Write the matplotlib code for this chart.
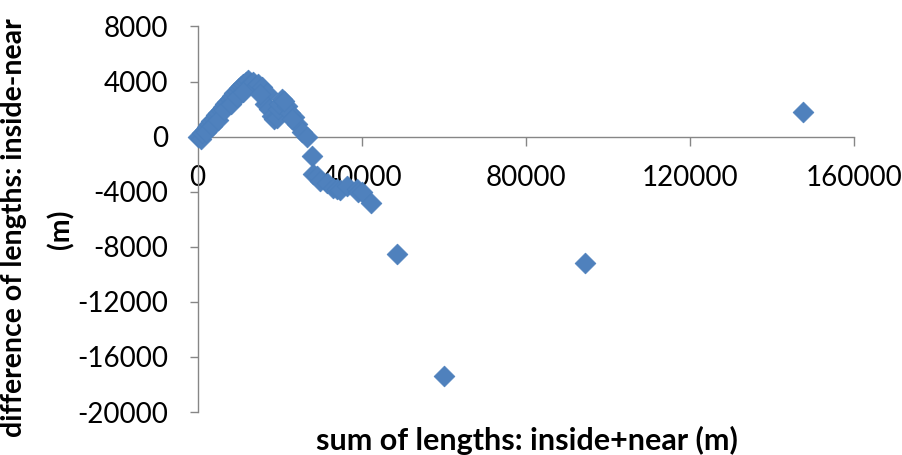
import matplotlib
matplotlib.use("Agg")
import matplotlib.pyplot as plt

# sum of lengths (inside + near), metres
sum_lengths = [
    0, 800, 1200, 1700, 2300, 2900, 3400, 3900, 4500, 5100, 5600, 6200,
    6800, 7300, 7900, 8400, 9000, 9500, 10100, 10600, 11200, 11700, 12300,
    13000, 13600, 14300, 14800, 15600, 16900, 16500, 17300, 18100, 18700,
    19300, 19500, 19900, 20500, 21700, 22500, 23400, 24200, 25400, 26600,
    27800, 28200, 29100, 29900, 31500, 33100, 33900, 34700, 36400, 38800,
    39200, 40000, 42200, 48600, 60100, 94500, 147500,
    2000, 3600, 4900, 6500, 8100, 9700, 11000, 15200, 21000, 23000,
]

# difference of lengths (inside - near), metres
diff_lengths = [
    0, -200, 250, 450, 700, 950, 1150, 1300, 1550, 1750, 1950, 2150,
    2400, 2550, 2750, 2950, 3150, 3300, 3500, 3650, 3800, 3950, 4100,
    3900, 4000, 3700, 3800, 3600, 3200, 2400, 2000, 1500, 1300,
    1350, 2000, 2400, 2750, 2250, 1750, 1400, 900, 300, -50,
    -1400, -2700, -2850, -3200, -3400, -3700, -3800, -3900, -3550, -3800,
    -4050, -4000, -4800, -8500, -17400, -9200, 1800,
    300, 800, 1200, 1900, 2350, 2850, 3250, 3100, 2600, 1300,
]

x_ticks = [0, 40000, 80000, 120000, 160000]
y_ticks = [-20000, -16000, -12000, -8000, -4000, 0, 4000, 8000]

x_title = "sum of lengths: inside+near (m)"
y_title = ["difference of lengths: inside-near", "(m)"]

plt.rcParams["font.family"] = ["Lato", "DejaVu Sans"]

fig = plt.figure(figsize=(9.02, 4.55), dpi=100)
ax = fig.add_axes([0.219, 0.0945, 0.7278, 0.8473])

ax.scatter(sum_lengths, diff_lengths, marker="D", s=112, color="#4F81BD",
           edgecolors="#4A7EBB", linewidths=0.5, clip_on=False, zorder=3)

ax.set_xlim(0, 160000)
ax.set_ylim(-20000, 8000)
ax.set_xticks(x_ticks)
ax.set_yticks(y_ticks)
ax.set_xticklabels([str(v) for v in x_ticks])
ax.set_yticklabels([str(v) for v in y_ticks])

axis_grey = "#868686"
for side in ("top", "right"):
    ax.spines[side].set_visible(False)
ax.spines["bottom"].set_position(("data", 0))
for side in ("left", "bottom"):
    ax.spines[side].set_color(axis_grey)
    ax.spines[side].set_linewidth(1.0)

ax.tick_params(axis="x", direction="out", length=6.5, width=1.0,
               color=axis_grey, labelsize=20, pad=14, labelcolor="black")
ax.tick_params(axis="y", direction="out", length=6.0, width=1.0,
               color=axis_grey, labelsize=20, pad=15, labelcolor="black")

fig.text(0.584, 0.033, x_title, ha="center", va="center",
         fontsize=22, fontweight="bold")
fig.text(0.016, 0.5, y_title[0], ha="center", va="center", rotation=90,
         fontsize=20.5, fontweight="bold")
fig.text(0.068, 0.495, y_title[1], ha="center", va="center", rotation=90,
         fontsize=20.5, fontweight="bold")

fig.savefig("out.png", dpi=100)
